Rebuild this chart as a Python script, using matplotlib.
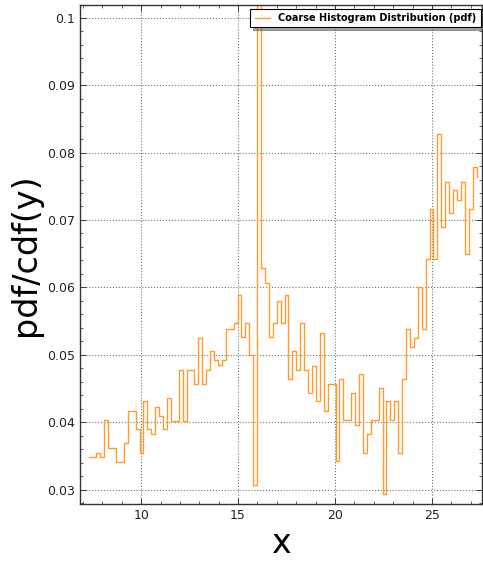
import numpy as np
import matplotlib
matplotlib.use("Agg")
import matplotlib.pyplot as plt
from matplotlib.ticker import MultipleLocator, FuncFormatter

# histogram bin positions (left edges)
X_START = 7.29
X_END = 27.30
N_BINS = 100

# pdf value of each bin (bin 43 is clipped at the top in the reference)
pdf_values = [
    0.0349, 0.0349, 0.0354, 0.0349, 0.0403, 0.0362, 0.0362, 0.0341, 0.0341, 0.0369,
    0.0416, 0.0416, 0.0390, 0.0354, 0.0431, 0.0390, 0.0383, 0.0423, 0.0410, 0.0390,
    0.0436, 0.0402, 0.0402, 0.0478, 0.0402, 0.0478, 0.0478, 0.0456, 0.0525, 0.0456,
    0.0478, 0.0505, 0.0492, 0.0485, 0.0492, 0.0539, 0.0539, 0.0547, 0.0588, 0.0526,
    0.0547, 0.0500, 0.0307, 0.1050, 0.0629, 0.0607, 0.0526, 0.0547, 0.0580, 0.0547,
    0.0588, 0.0464, 0.0505, 0.0478, 0.0547, 0.0478, 0.0444, 0.0484, 0.0431, 0.0532,
    0.0416, 0.0457, 0.0457, 0.0342, 0.0464, 0.0403, 0.0403, 0.0444, 0.0396, 0.0471,
    0.0355, 0.0383, 0.0403, 0.0403, 0.0451, 0.0294, 0.0431, 0.0403, 0.0431, 0.0355,
    0.0464, 0.0539, 0.0511, 0.0525, 0.0601, 0.0539, 0.0642, 0.0716, 0.0642, 0.0827,
    0.0690, 0.0757, 0.0711, 0.0744, 0.0730, 0.0757, 0.0649, 0.0717, 0.0778, 0.0764,
]

bin_edges = np.linspace(X_START, X_END, N_BINS)

fig = plt.figure(figsize=(4.83, 5.65), dpi=100)
ax = fig.add_axes([0.1656, 0.108, 0.832, 0.883])

ax.plot(bin_edges, pdf_values, drawstyle="steps-post", color="#ff9a2e",
        linewidth=1.0, label="Coarse Histogram Distribution (pdf)")

ax.set_xlim(6.847, 27.57)
ax.set_ylim(0.02788, 0.10187)

ax.xaxis.set_major_locator(MultipleLocator(5))
ax.xaxis.set_minor_locator(MultipleLocator(1))
ax.yaxis.set_major_locator(MultipleLocator(0.01))
ax.yaxis.set_minor_locator(MultipleLocator(0.002))
# labels like 0.1, 0.09 (no trailing zeros)
ax.yaxis.set_major_formatter(FuncFormatter(lambda v, pos: f"{v:.2f}".rstrip("0")))
ax.tick_params(which="both", direction="in", top=True, right=True,
               labelsize=9, colors="#222222")
ax.tick_params(which="major", length=4, width=0.6)
ax.tick_params(which="minor", length=2, width=0.5)

ax.grid(True, which="major", color="0.45", linestyle=":", linewidth=0.8)

for sp in ax.spines.values():
    sp.set_color("#333333")
    sp.set_linewidth(1.0)

ax.set_xlabel("x", fontsize=24)
ax.set_ylabel("pdf/cdf(y)", fontsize=24)

leg = ax.legend(loc="upper right", bbox_to_anchor=(0.997, 0.993), fancybox=False,
                shadow=True, prop={"weight": "bold", "size": 7},
                handlelength=1.6, borderpad=0.45, borderaxespad=0.0)
leg.get_frame().set_edgecolor("black")
leg.get_frame().set_linewidth(0.8)

fig.savefig("out.png", dpi=100)
